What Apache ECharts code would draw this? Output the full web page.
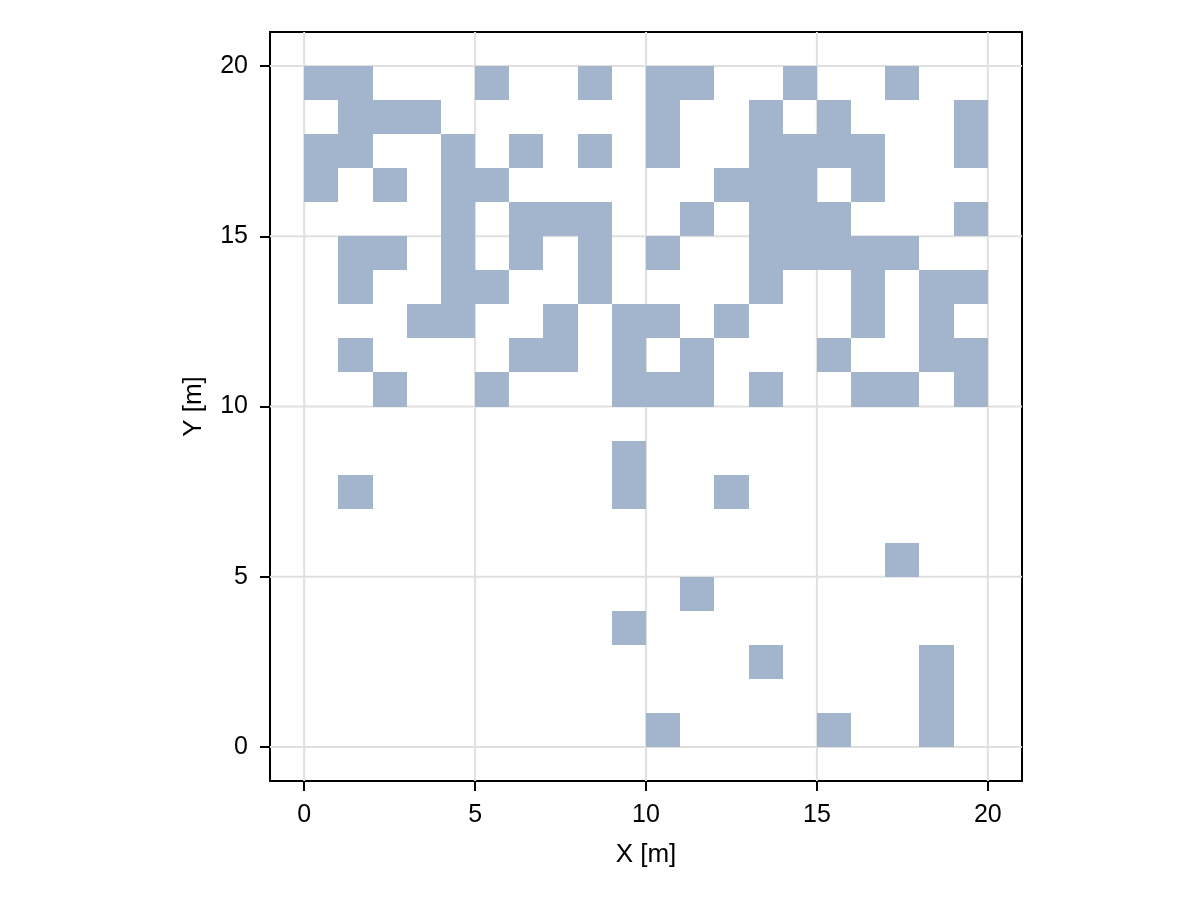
<!DOCTYPE html>
<html>
<head>
<meta charset="utf-8">
<script src="https://cdn.jsdelivr.net/npm/echarts@6/dist/echarts.min.js"></script>
<style>
html,body{margin:0;padding:0;background:#fff;}
#chart{width:1200px;height:900px;}
</style>
</head>
<body>
<div id="chart"></div>
<script>
// Tick values
const xTicks = [0, 5, 10, 15, 20];
const yTicks = [0, 5, 10, 15, 20];
const axisMin = -1;
const axisMax = 21;

// Filled cells: for each row (lower y edge), the lower x edges of filled cells
const rowY = [19, 18, 17, 16, 15, 14, 13, 12, 11, 10, 9, 8, 7, 6, 5, 4, 3, 2, 1, 0];
const row19 = [0, 1, 5, 8, 10, 11, 14, 17];
const row18 = [1, 2, 3, 10, 13, 15, 19];
const row17 = [0, 1, 4, 6, 8, 10, 13, 14, 15, 16, 19];
const row16 = [0, 2, 4, 5, 12, 13, 14, 16];
const row15 = [4, 6, 7, 8, 11, 13, 14, 15, 19];
const row14 = [1, 2, 4, 6, 8, 10, 13, 14, 15, 16, 17];
const row13 = [1, 4, 5, 8, 13, 16, 18, 19];
const row12 = [3, 4, 7, 9, 10, 12, 16, 18];
const row11 = [1, 6, 7, 9, 11, 15, 18, 19];
const row10 = [2, 5, 9, 10, 11, 13, 16, 17, 19];
const row9 = [];
const row8 = [9];
const row7 = [1, 9, 12];
const row6 = [];
const row5 = [17];
const row4 = [11];
const row3 = [9];
const row2 = [13, 18];
const row1 = [18];
const row0 = [10, 15, 18];
const rowCells = [row19, row18, row17, row16, row15, row14, row13, row12, row11, row10,
                  row9, row8, row7, row6, row5, row4, row3, row2, row1, row0];

const cellData = [];
rowY.forEach(function (y, i) {
  rowCells[i].forEach(function (x) { cellData.push([x, y]); });
});

const cellColor = '#a2b5cd';
const gridColor = '#e0e0e0';
const fontFam = '"Liberation Sans", Arial, Helvetica, sans-serif';

const chart = echarts.init(document.getElementById('chart'), null, {renderer: 'canvas'});

function axisCommon(ticks) {
  return {
    type: 'value',
    min: axisMin,
    max: axisMax,
    axisLine: {show: true, onZero: false, lineStyle: {color: '#000', width: 2}},
    axisTick: {show: true, inside: false, length: 10, customValues: ticks, lineStyle: {color: '#000', width: 2}},
    axisLabel: {show: true, customValues: ticks, color: '#000', fontSize: 25, fontFamily: fontFam, margin: 22},
    splitLine: {show: false},
    nameLocation: 'middle',
    nameTextStyle: {color: '#000', fontSize: 26, fontFamily: fontFam}
  };
}

const xAxis = Object.assign(axisCommon(xTicks), {name: 'X [m]', nameGap: 61});
const yAxis = Object.assign(axisCommon(yTicks), {name: 'Y [m]', nameGap: 63});

const option = {
  backgroundColor: '#fff',
  animation: false,
  grid: {
    left: 270, right: 178, top: 32, bottom: 119,
    show: true, borderColor: '#000', borderWidth: 2, backgroundColor: '#fff',
    outerBoundsMode: 'none'
  },
  xAxis: xAxis,
  yAxis: yAxis,
  series: [
    {
      type: 'custom',
      name: 'gridX',
      silent: true,
      z: 1,
      data: xTicks.map(function (v) { return [v]; }),
      renderItem: function (params, api) {
        const v = api.value(0);
        const a = api.coord([v, axisMin]);
        const b = api.coord([v, axisMax]);
        return {type: 'line', shape: {x1: a[0], y1: a[1], x2: b[0], y2: b[1]},
                style: {stroke: gridColor, lineWidth: 2}};
      }
    },
    {
      type: 'custom',
      name: 'gridY',
      silent: true,
      z: 1,
      data: yTicks.map(function (v) { return [axisMin, v]; }),
      encode: {x: 0, y: 1},
      renderItem: function (params, api) {
        const v = api.value(1);
        const a = api.coord([axisMin, v]);
        const b = api.coord([axisMax, v]);
        return {type: 'line', shape: {x1: a[0], y1: a[1], x2: b[0], y2: b[1]},
                style: {stroke: gridColor, lineWidth: 2}};
      }
    },
    {
      type: 'custom',
      name: 'cells',
      z: 3,
      data: cellData,
      encode: {x: 0, y: 1},
      renderItem: function (params, api) {
        const x = api.value(0), y = api.value(1);
        const p0 = api.coord([x, y + 1]);
        const p1 = api.coord([x + 1, y]);
        const left = Math.round(p0[0]);
        const top = Math.round(p0[1]);
        const right = Math.round(p1[0]);
        const bottom = Math.round(p1[1]);
        return {type: 'rect', z2: 10,
                shape: {x: left, y: top, width: right - left, height: bottom - top},
                style: {fill: cellColor}};
      }
    }
  ]
};
chart.setOption(option);
</script>
</body>
</html>
